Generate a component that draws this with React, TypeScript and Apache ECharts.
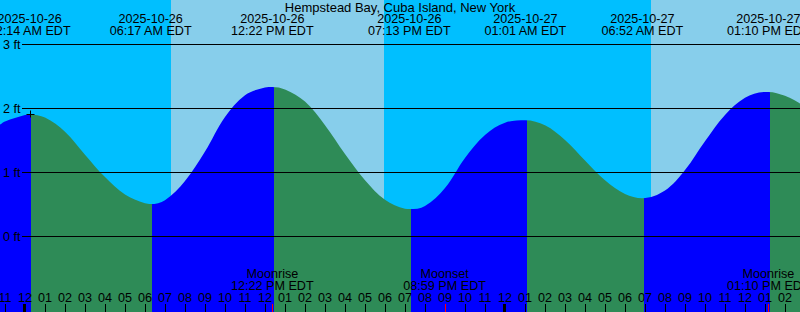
import React, { useEffect, useRef } from 'react';
import * as echarts from 'echarts';

// ---------- data ----------
const TITLE = 'Hempstead Bay, Cuba Island, New York';

// hours since 2025-10-26 00:00 EDT, water level in feet
const tideHours = [
  -1.25, -1, 0, 0.233, 1, 2, 3, 4, 5, 6, 6.283, 7, 8, 9, 10, 11, 12, 12.367, 13, 14, 15, 16, 17, 18, 19,
  19.217, 20, 21, 22, 23, 24, 25.017, 26, 27, 28, 29, 30, 30.867, 32, 33, 34, 35, 36, 37, 37.167, 38, 38.75,
];
const tideFeet = [
  1.74, 1.79, 1.89, 1.9, 1.85, 1.63, 1.27, 0.92, 0.65, 0.51, 0.5, 0.56, 0.86, 1.32, 1.86, 2.2, 2.32, 2.33, 2.29, 2.1, 1.73, 1.28, 0.87, 0.565, 0.425,
  0.42, 0.47, 0.75, 1.22, 1.58, 1.77, 1.81, 1.73, 1.5, 1.18, 0.87, 0.655, 0.59, 0.71, 1.03, 1.48, 1.89, 2.16, 2.25, 2.25, 2.19, 2.07,
];

const extremeHours = [0.233, 6.283, 12.367, 19.217, 25.017, 30.867, 37.167];
const extremeFeet = [1.9, 0.5, 2.33, 0.42, 1.81, 0.59, 2.25];
const extremeKinds = ['High', 'Low', 'High', 'Low', 'High', 'Low', 'High'];
const extremeDates = ['2025-10-26', '2025-10-26', '2025-10-26', '2025-10-26', '2025-10-27', '2025-10-27', '2025-10-27'];
const extremeTimes = ['12:14 AM EDT', '06:17 AM EDT', '12:22 PM EDT', '07:13 PM EDT', '01:01 AM EDT', '06:52 AM EDT', '01:10 PM EDT'];

const moonHours = [12.367, 20.983, 37.167];
const moonNames = ['Moonrise', 'Moonset', 'Moonrise'];
const moonTimes = ['12:22 PM EDT', '08:59 PM EDT', '01:10 PM EDT'];

// [start hour, end hour, isDay]
const skyBands = [
  [-1.25, 7.3, 0],
  [7.3, 17.95, 1],
  [17.95, 31.3, 0],
  [31.3, 38.75, 1],
];

const hourTicks = [
  -1, 0, 1, 2, 3, 4, 5, 6, 7, 8, 9, 10, 11, 12, 13, 14, 15, 16, 17, 18, 19, 20, 21, 22, 23,
  24, 25, 26, 27, 28, 29, 30, 31, 32, 33, 34, 35, 36, 37, 38,
];
const hourLabels = [
  '11', '12', '01', '02', '03', '04', '05', '06', '07', '08', '09', '10', '11', '12', '01', '02', '03', '04', '05', '06', '07', '08', '09', '10', '11',
  '12', '01', '02', '03', '04', '05', '06', '07', '08', '09', '10', '11', '12', '01', '02',
];
const midnightHours = [0, 24];

const gridFeet = [0, 1, 2, 3];
const gridLabels = ['0 ft', '1 ft', '2 ft', '3 ft'];

// ---------- style ----------
const X_MIN = -1.25;
const X_MAX = 38.75;
const Y_MIN = -1.1875;
const Y_MAX = 3.6875;
const GRID_X0 = -0.15;
const FILL_SHIFT = 0.07;
const NIGHT = '#00BFFF';
const DAY = '#87CEEB';
const RISING = '#0000FF';
const FALLING = '#2E8B57';
const FAMILY = '"Liberation Sans", Arial, Helvetica, sans-serif';
const FS = 12.6;
const FONT = `${FS}px ${FAMILY}`;

export default function App() {
  const ref = useRef<HTMLDivElement>(null);

  useEffect(() => {
    document.body.style.margin = '0';
    const chart = echarts.init(ref.current!, null, { renderer: 'svg', width: 800, height: 312 });

    const bounds = [-10, ...extremeHours.map((h) => h + FILL_SHIFT), 50];
    const pieces = bounds.slice(0, -1).map((b, i) => {
      let rising: boolean;
      if (i < extremeKinds.length) rising = extremeKinds[i] === 'High';
      else rising = extremeKinds[extremeKinds.length - 1] === 'Low';
      return { min: b, max: bounds[i + 1], color: rising ? RISING : FALLING };
    });

    const txt = (text: string, x: number, y: number, align = 'center') => ({
      type: 'text',
      silent: true,
      style: { text, x, y, align, verticalAlign: 'middle', fill: '#000', font: FONT },
    });

    const option: any = {
      animation: false,
      title: {
        text: TITLE,
        left: 'center',
        top: 1,
        padding: 0,
        textStyle: { fontSize: 13, fontFamily: FAMILY, fontWeight: 'normal', color: '#000' },
      },
      grid: { left: 0, right: 0, top: 0, bottom: 0, containLabel: false, outerBoundsMode: 'none' },
      xAxis: {
        type: 'value',
        position: 'bottom',
        min: X_MIN,
        max: X_MAX,
        z: 10,
        axisLine: { show: false, onZero: false },
        splitLine: { show: false },
        axisTick: { show: true, inside: true, length: 8, customValues: hourTicks, lineStyle: { color: '#000', width: 1 } },
        axisLabel: {
          show: true,
          inside: true,
          margin: 8,
          customValues: hourTicks,
          hideOverlap: false,
          formatter: (v: number) => hourLabels[hourTicks.indexOf(Math.round(v))] ?? '',
          color: '#000',
          fontFamily: FAMILY,
          fontSize: FS,
        },
      },
      yAxis: { type: 'value', min: Y_MIN, max: Y_MAX, show: false },
      visualMap: { type: 'piecewise', show: false, seriesIndex: 1, dimension: 0, pieces },
      series: [
        {
          type: 'custom',
          name: 'sky',
          z: 1,
          silent: true,
          data: skyBands,
          renderItem: (p: any, api: any) => {
            const a = api.coord([api.value(0), Y_MAX]);
            const b = api.coord([api.value(1), Y_MIN]);
            return {
              type: 'rect',
              shape: { x: a[0], y: a[1], width: b[0] - a[0], height: b[1] - a[1] },
              style: { fill: api.value(2) ? DAY : NIGHT },
            };
          },
        },
        {
          type: 'line',
          name: 'tide',
          z: 2,
          silent: true,
          data: tideHours.map((h, i) => [h, tideFeet[i]]),
          smooth: 0.35,
          showSymbol: false,
          symbol: 'none',
          lineStyle: { width: 0 },
          areaStyle: { opacity: 1, origin: 'start' },
        },
        {
          type: 'custom',
          name: 'grid',
          z: 3,
          silent: true,
          data: gridFeet.map((v) => [GRID_X0, v]),
          renderItem: (p: any, api: any) => {
            const a = api.coord([GRID_X0, api.value(1)]);
            const b = api.coord([X_MAX, api.value(1)]);
            const y = Math.round(a[1]) + 0.5;
            return {
              type: 'group',
              children: [
                { type: 'line', shape: { x1: a[0], y1: y, x2: b[0], y2: y }, style: { stroke: '#000', lineWidth: 1 } },
                txt(gridLabels[p.dataIndex], 3, y, 'left'),
              ],
            };
          },
        },
        {
          type: 'custom',
          name: 'extremes',
          z: 4,
          silent: true,
          data: extremeHours.map((h, i) => [h, extremeFeet[i]]),
          renderItem: (p: any, api: any) => {
            const x = api.coord([api.value(0), 0])[0];
            return {
              type: 'group',
              children: [txt(extremeDates[p.dataIndex], x, 19), txt(extremeTimes[p.dataIndex], x, 30.5)],
            };
          },
        },
        {
          type: 'custom',
          name: 'moon',
          z: 20,
          silent: true,
          data: moonHours.map((h) => [h, 0]),
          renderItem: (p: any, api: any) => {
            const x = api.coord([api.value(0), 0])[0];
            const xt = Math.round(x) + 0.5;
            return {
              type: 'group',
              children: [
                txt(moonNames[p.dataIndex], x, 273.5),
                txt(moonTimes[p.dataIndex], x, 285.5),
                { type: 'line', shape: { x1: xt, y1: 304, x2: xt, y2: 312 }, style: { stroke: '#FF0000', lineWidth: 1 } },
              ],
            };
          },
        },
        {
          type: 'custom',
          name: 'midnight',
          z: 20,
          silent: true,
          data: midnightHours.map((h) => [h, 0]),
          renderItem: (p: any, api: any) => {
            const x = Math.round(api.coord([api.value(0), 0])[0]);
            return { type: 'rect', shape: { x: x - 2, y: 304, width: 3, height: 8 }, style: { fill: '#000' } };
          },
        },
        {
          type: 'custom',
          name: 'marker',
          z: 20,
          silent: true,
          data: [[extremeHours[0], extremeFeet[0]]],
          renderItem: (p: any, api: any) => {
            const c = api.coord([api.value(0), api.value(1)]);
            const x = Math.round(c[0]) + 0.5;
            const y = Math.round(c[1]) + 0.5;
            return {
              type: 'group',
              children: [
                { type: 'line', shape: { x1: x - 4, y1: y, x2: x + 4, y2: y }, style: { stroke: '#000', lineWidth: 1 } },
                { type: 'line', shape: { x1: x, y1: y - 4, x2: x, y2: y + 3 }, style: { stroke: '#000', lineWidth: 1 } },
              ],
            };
          },
        },
      ],
    };

    chart.setOption(option);
    return () => chart.dispose();
  }, []);

  return <div ref={ref} style={{ position: 'absolute', left: 0, top: 0, width: 800, height: 312 }} />;
}
